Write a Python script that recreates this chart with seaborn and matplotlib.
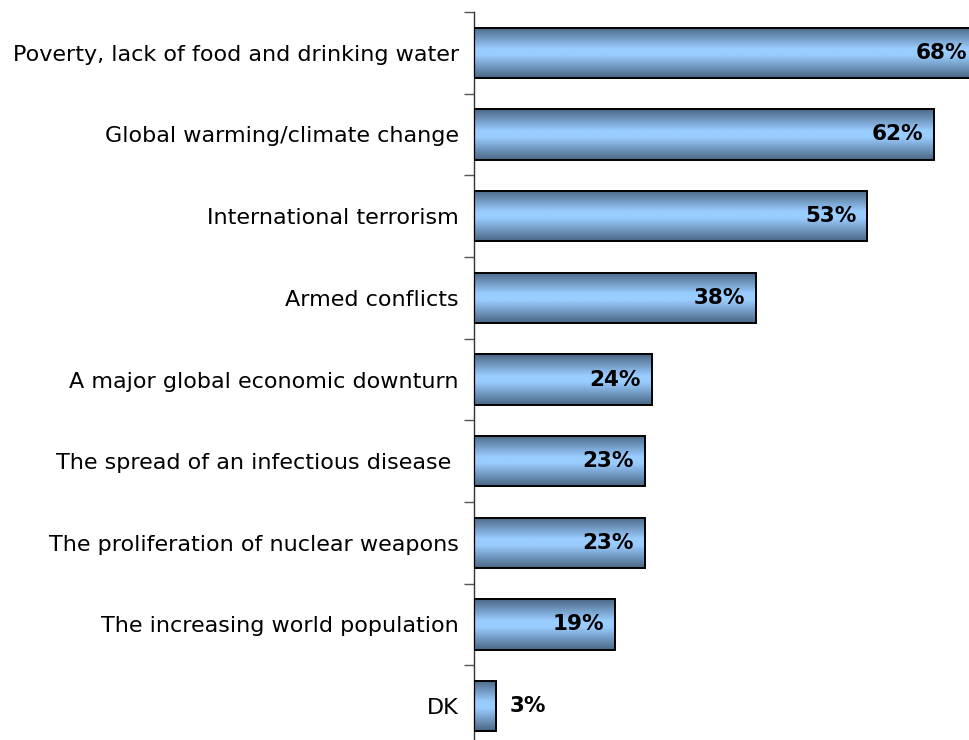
import seaborn as sns
import matplotlib.pyplot as plt
import numpy as np
import pandas as pd
from matplotlib.colors import LinearSegmentedColormap

categories = [
    "Poverty, lack of food and drinking water",
    "Global warming/climate change",
    "International terrorism",
    "Armed conflicts",
    "A major global economic downturn",
    "The spread of an infectious disease ",
    "The proliferation of nuclear weapons",
    "The increasing world population",
    "DK",
]
values = [68, 62, 53, 38, 24, 23, 23, 19, 3]

df = pd.DataFrame({"issue": categories, "pct": values})

sns.set_style("white")
plt.rcParams['font.family'] = ['DejaVu Sans']
plt.rcParams['text.color'] = 'black'
plt.rcParams['ytick.labelcolor'] = 'black'

fig = plt.figure(figsize=(9.7, 7.4), dpi=100)
ax = fig.add_axes([474 / 970, -7 / 740, 496 / 970, 735 / 740])

sns.barplot(data=df, x="pct", y="issue", ax=ax, width=0.62,
            color="#99ccff", edgecolor="black", linewidth=1.4, zorder=2)

# vertical gradient in each bar
grad = LinearSegmentedColormap.from_list(
    "bar", [(0, "#4a6684"), (0.42, "#99ccff"), (0.55, "#99ccff"), (1, "#4a6684")])
g = np.linspace(0, 1, 256).reshape(-1, 1)
for p in ax.patches:
    x0, y0 = p.get_x(), p.get_y()
    w, h = p.get_width(), p.get_height()
    im = ax.imshow(g, cmap=grad, aspect="auto", extent=(x0, x0 + w, y0 + h, y0),
                   zorder=2.5, interpolation="bilinear")
    im.set_clip_path(p)
    p.set_facecolor("none")
    p.set_zorder(3)
ax.set_xlim(0, 66.85)
ax.set_ylim(len(categories) - 0.5, -0.5)

# value labels
for i, v in enumerate(values):
    if v > 10:
        ax.annotate(f"{v}%", (v, i), xytext=(-11, 0), textcoords="offset pixels",
                    ha="right", va="center", fontsize=15.5, fontweight="bold",
                    zorder=5, annotation_clip=False)
    else:
        ax.annotate(f"{v}%", (v, i), xytext=(13, 0), textcoords="offset pixels",
                    ha="left", va="center", fontsize=15.5, fontweight="bold",
                    zorder=5, annotation_clip=False)

ax.set_xlabel("")
ax.set_ylabel("")
ax.set_xticks([])
ax.tick_params(axis="y", which="major", length=0, pad=11, labelsize=16)
ax.set_yticks(np.arange(-0.5, len(categories) + 0.5, 1), minor=True)
ax.tick_params(axis="y", which="minor", length=7, width=1, color="#555555", left=True)

for s in ["top", "right", "bottom"]:
    ax.spines[s].set_visible(False)
ax.spines["left"].set_color("#333333")
ax.spines["left"].set_linewidth(1)

fig.savefig("out.png", dpi=100)
